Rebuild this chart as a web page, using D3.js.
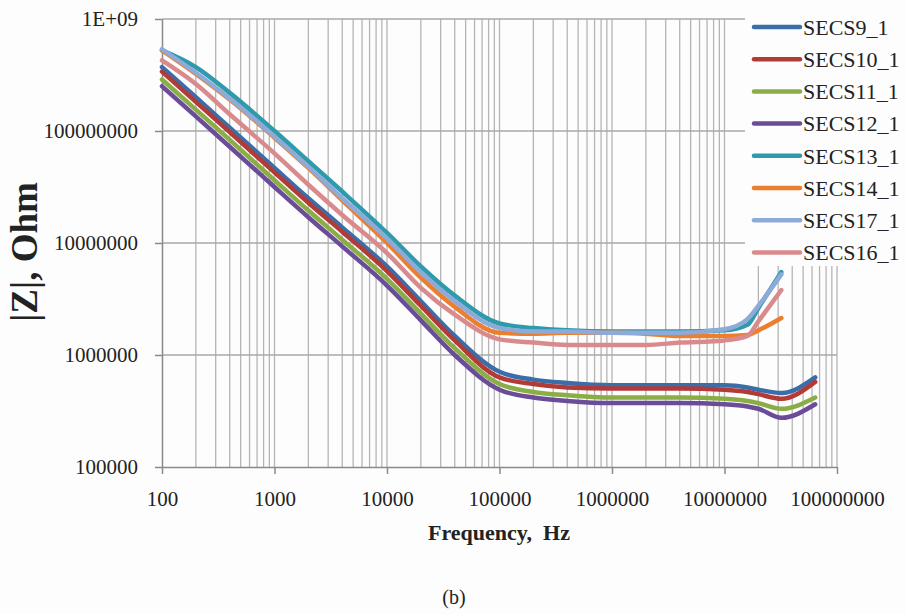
<!DOCTYPE html>
<html>
<head>
<meta charset="utf-8">
<script src="https://cdn.jsdelivr.net/npm/d3@7"></script>
<style>
  html, body { margin: 0; padding: 0; background: #fdfdfd; }
  svg { display: block; }
</style>
</head>
<body>
<svg id="chart" width="906" height="614"></svg>
<script>
// ---------------- DATA ----------------
const freqLong  = [100, 200, 400, 1000, 2000, 4000, 10000, 20000, 40000, 100000, 200000, 400000, 1e6, 2e6, 4e6, 1e7, 1.6e7, 2e7, 3.2e7, 6.4e7];
const freqShort = [100, 200, 400, 1000, 2000, 4000, 10000, 20000, 40000, 100000, 200000, 400000, 1e6, 2e6, 4e6, 1e7, 1.6e7, 2e7, 3.2e7];

const seriesNames = ["SECS9_1", "SECS10_1", "SECS11_1", "SECS12_1", "SECS13_1", "SECS14_1", "SECS17_1", "SECS16_1"];
const seriesColors = ["#3b6ea8", "#b23b38", "#8bad46", "#6a4c98", "#2e9aab", "#ec7f2e", "#8eaad9", "#d98a8d"];

const secs9  = [3.72e8, 2.00e8, 1.07e8, 4.68e7, 2.51e7, 1.38e7, 6.17e6, 3.02e6, 1.48e6, 7.08e5, 6.03e5, 5.62e5, 5.37e5, 5.37e5, 5.37e5, 5.37e5, 5.13e5, 4.90e5, 4.57e5, 6.31e5];
const secs10 = [3.39e8, 1.82e8, 9.77e7, 4.27e7, 2.29e7, 1.26e7, 5.62e6, 2.75e6, 1.35e6, 6.31e5, 5.50e5, 5.13e5, 5.01e5, 5.01e5, 5.01e5, 4.90e5, 4.68e5, 4.47e5, 4.07e5, 5.75e5];
const secs11 = [2.88e8, 1.55e8, 8.32e7, 3.63e7, 1.95e7, 1.07e7, 4.79e6, 2.34e6, 1.15e6, 5.50e5, 4.68e5, 4.37e5, 4.17e5, 4.17e5, 4.17e5, 4.07e5, 3.89e5, 3.72e5, 3.31e5, 4.17e5];
const secs12 = [2.51e8, 1.35e8, 7.24e7, 3.16e7, 1.70e7, 9.33e6, 4.17e6, 2.04e6, 1.00e6, 4.90e5, 4.17e5, 3.89e5, 3.72e5, 3.72e5, 3.72e5, 3.63e5, 3.47e5, 3.31e5, 2.75e5, 3.63e5];
const secs13 = [5.25e8, 3.72e8, 2.19e8, 1.00e8, 5.37e7, 2.88e7, 1.23e7, 6.17e6, 3.39e6, 1.91e6, 1.74e6, 1.66e6, 1.62e6, 1.62e6, 1.62e6, 1.66e6, 1.86e6, 2.63e6, 5.50e6];
const secs14 = [5.25e8, 3.24e8, 1.91e8, 8.71e7, 4.68e7, 2.40e7, 1.00e7, 4.90e6, 2.69e6, 1.58e6, 1.55e6, 1.58e6, 1.58e6, 1.55e6, 1.48e6, 1.48e6, 1.51e6, 1.66e6, 2.14e6];
const secs17 = [5.37e8, 3.31e8, 1.95e8, 8.91e7, 4.79e7, 2.51e7, 1.10e7, 5.50e6, 3.02e6, 1.74e6, 1.62e6, 1.62e6, 1.58e6, 1.58e6, 1.58e6, 1.70e6, 2.09e6, 2.75e6, 5.25e6];
const secs16 = [4.27e8, 2.63e8, 1.41e8, 6.31e7, 3.31e7, 1.78e7, 8.13e6, 3.98e6, 2.29e6, 1.38e6, 1.29e6, 1.23e6, 1.23e6, 1.23e6, 1.29e6, 1.35e6, 1.48e6, 2.00e6, 3.80e6];

const xTicks = [100, 1000, 10000, 100000, 1e6, 1e7, 1e8];
const xTickLabels = ["100", "1000", "10000", "100000", "1000000", "10000000", "100000000"];
const yTicks = [1e5, 1e6, 1e7, 1e8, 1e9];
const yTickLabels = ["100000", "1000000", "10000000", "100000000", "1E+09"];

const xTitle = "Frequency,  Hz";
const yTitle = "|Z|, Ohm";
const caption = "(b)";

// ---------------- CHART ----------------
const seriesValues = [secs9, secs10, secs11, secs12, secs13, secs14, secs17, secs16];
const seriesFreqs  = [freqLong, freqLong, freqLong, freqLong, freqShort, freqShort, freqShort, freqShort];

const svg = d3.select("#chart");
const W = 906, H = 614;
const plot = { left: 162, right: 837, top: 19, bottom: 467 };

svg.append("rect").attr("width", W).attr("height", H).attr("fill", "#fdfdfd");

const x = d3.scaleLog().domain([100, 1e8]).range([plot.left, plot.right]);
const y = d3.scaleLog().domain([1e5, 1e9]).range([plot.bottom, plot.top]);

const serif = "'Liberation Serif', 'Times New Roman', serif";
const gridColor = "#b5b5b5";

// vertical grid (all minor ticks)
svg.append("g").selectAll("line")
  .data(x.ticks().filter(d => d > 100))
  .join("line")
  .attr("x1", d => x(d)).attr("x2", d => x(d))
  .attr("y1", plot.top).attr("y2", plot.bottom)
  .attr("stroke", gridColor).attr("stroke-width", 1.3);

// horizontal grid (decades)
svg.append("g").selectAll("line")
  .data(yTicks.filter(d => d > 1e5))
  .join("line")
  .attr("x1", plot.left).attr("x2", plot.right)
  .attr("y1", d => y(d)).attr("y2", d => y(d))
  .attr("stroke", "#a9a9a9").attr("stroke-width", 1.4);

// axes
const yAxis = svg.append("g")
  .attr("transform", `translate(${plot.left},0)`)
  .call(d3.axisLeft(y).tickValues(yTicks).tickSize(7).tickSizeOuter(0).tickPadding(17)
    .tickFormat((d, i) => yTickLabels[i]));
const xAxis = svg.append("g")
  .attr("transform", `translate(0,${plot.bottom})`)
  .call(d3.axisBottom(x).tickValues(xTicks).tickSize(7).tickSizeOuter(0).tickPadding(17)
    .tickFormat((d, i) => xTickLabels[i]));

[yAxis, xAxis].forEach(a => {
  a.select(".domain").attr("stroke", "#8a8a8a").attr("stroke-width", 1.5);
  a.selectAll(".tick line").attr("stroke", "#8a8a8a").attr("stroke-width", 1.5);
  a.selectAll("text").attr("font-family", serif).attr("font-size", 21).attr("fill", "#222");
});

// lines
const line = d3.line()
  .x(d => x(d[0]))
  .y(d => y(d[1]))
  .curve(d3.curveMonotoneX);

seriesValues.forEach((vals, i) => {
  const pts = vals.map((v, j) => [seriesFreqs[i][j], v]);
  svg.append("path")
    .attr("d", line(pts))
    .attr("fill", "none")
    .attr("stroke", seriesColors[i])
    .attr("stroke-width", 4.5)
    .attr("stroke-linejoin", "round")
    .attr("stroke-linecap", "round");
});

// legend
svg.append("rect").attr("x", 745).attr("y", 0).attr("width", W - 745).attr("height", 266).attr("fill", "#fdfdfd");
const legend = svg.append("g");
seriesNames.forEach((name, i) => {
  const cy = 27 + i * 32.2;
  legend.append("line")
    .attr("x1", 754).attr("x2", 800).attr("y1", cy).attr("y2", cy)
    .attr("stroke", seriesColors[i]).attr("stroke-width", 4.5).attr("stroke-linecap", "round");
  legend.append("text")
    .attr("x", 803).attr("y", cy).attr("dy", "0.35em")
    .attr("font-family", serif).attr("font-size", 22).attr("fill", "#222")
    .text(name);
});

// titles
svg.append("text")
  .attr("x", 499).attr("y", 540)
  .attr("text-anchor", "middle")
  .attr("font-family", serif).attr("font-weight", "bold").attr("font-size", 22).attr("fill", "#222")
  .style("white-space", "pre")
  .text(xTitle);

svg.append("text")
  .attr("transform", "translate(37,252) rotate(-90)")
  .attr("text-anchor", "middle")
  .attr("font-family", serif).attr("font-weight", "bold").attr("font-size", 37).attr("fill", "#222")
  .text(yTitle);

svg.append("text")
  .attr("x", 454).attr("y", 604)
  .attr("text-anchor", "middle")
  .attr("font-family", serif).attr("font-size", 20).attr("fill", "#222")
  .text(caption);
</script>
</body>
</html>
